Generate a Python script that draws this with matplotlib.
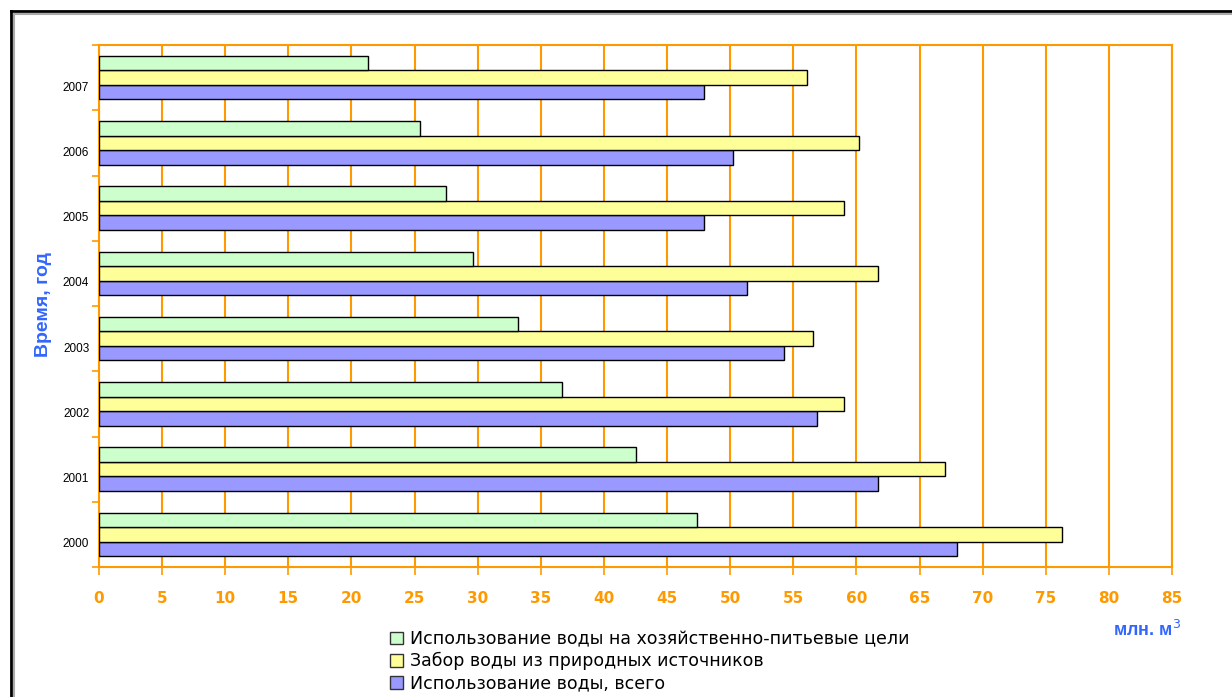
import matplotlib
matplotlib.use("Agg")
import matplotlib.pyplot as plt
import numpy as np
from matplotlib.lines import Line2D
from matplotlib.patches import Patch

years = ["2000", "2001", "2002", "2003", "2004", "2005", "2006", "2007"]
drinking = [47.4, 42.5, 36.7, 33.2, 29.6, 27.5, 25.4, 21.3]
intake = [76.3, 67.0, 59.0, 56.6, 61.7, 59.0, 60.2, 56.1]
total = [68.0, 61.7, 56.9, 54.3, 51.3, 47.9, 50.2, 47.9]

labels = ["Использование воды на хозяйственно-питьевые цели",
          "Забор воды из природных источников",
          "Использование воды, всего"]
colors = ["#CCFFCC", "#FFFF99", "#9999FF"]
orange = "#FF9900"
blue = "#3366FF"

plt.rcParams['font.family'] = ['Liberation Sans', 'DejaVu Sans']

W, H = 1232, 697
fig = plt.figure(figsize=(W / 100, H / 100), dpi=100)
ax = fig.add_axes([99 / W, 1 - 567 / H, (1172 - 99) / W, (567 - 45) / H])

y = np.arange(len(years))
bh = 0.222
ax.barh(y - bh, total, height=bh, color=colors[2], edgecolor="black", linewidth=1, zorder=3)
ax.barh(y, intake, height=bh, color=colors[1], edgecolor="black", linewidth=1, zorder=3)
ax.barh(y + bh, drinking, height=bh, color=colors[0], edgecolor="black", linewidth=1, zorder=3)

ax.set_xlim(0, 85)
ax.set_ylim(-0.5, len(years) - 0.5)
ax.set_xticks(np.arange(0, 86, 5))
ax.set_xticklabels([str(v) for v in range(0, 86, 5)], color=orange,
                   fontweight="bold", fontsize=11, family=["DejaVu Sans"])
ax.set_yticks(y - 0.13)
ax.set_yticklabels(years, fontsize=8.5)
ax.set_yticks(np.arange(-0.5, len(years), 1), minor=True)
ax.tick_params(axis="y", which="major", length=0, pad=7)
ax.tick_params(axis="y", which="minor", length=5, color=orange, width=1.2)
ax.tick_params(axis="x", length=6, color=orange, width=1.2, pad=11)

ax.grid(axis="x", color=orange, linewidth=1.5, zorder=0)
for s in ax.spines.values():
    s.set_color(orange)
    s.set_linewidth(1.5)

fig.text(43 / W, 1 - 305 / H, "Время, год", color=blue, fontweight="bold",
         fontsize=14, rotation=90, ha="center", va="center")

handles = [Patch(facecolor=c, edgecolor="#333333", linewidth=1) for c in colors]
fig.legend(handles, labels, loc="upper left", bbox_to_anchor=(390 / W, 1 - 630 / H),
           frameon=False, handlelength=0.75, handleheight=0.75,
           handletextpad=0.4, labelspacing=0.24, borderaxespad=0, borderpad=0,
           prop={"family": "DejaVu Sans", "size": 12.5})

fig.text(1113 / W, 1 - 630 / H, "млн. м$^3$", color=blue, fontweight="bold",
         fontsize=13, ha="left", va="center")

# outer frame
fig.add_artist(Line2D([11 / W, 11 / W], [0, 1 - 11 / H], transform=fig.transFigure,
                      color="black", linewidth=2))
fig.add_artist(Line2D([11 / W, 1], [1 - 11 / H, 1 - 11 / H], transform=fig.transFigure,
                      color="black", linewidth=2))
fig.add_artist(Line2D([13.5 / W, 13.5 / W], [0, 1 - 13.5 / H], transform=fig.transFigure,
                      color="#AAAAAA", linewidth=1.5))
fig.add_artist(Line2D([13.5 / W, 1], [1 - 13.5 / H, 1 - 13.5 / H], transform=fig.transFigure,
                      color="#AAAAAA", linewidth=1.5))

fig.savefig("out.png", dpi=100)
